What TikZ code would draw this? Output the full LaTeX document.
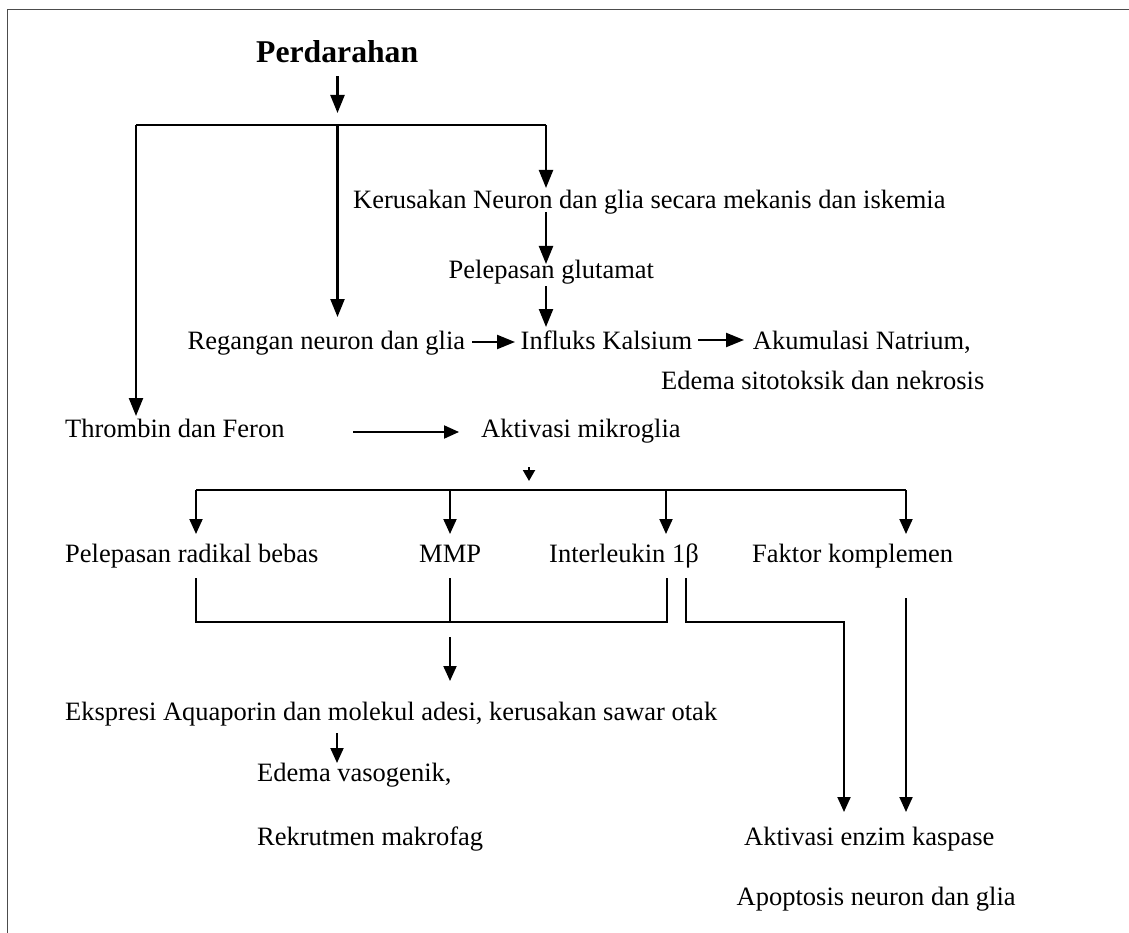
\documentclass[tikz,border=0pt]{standalone}
\usepackage{fontspec}
\setmainfont{Liberation Serif}
\usetikzlibrary{arrows.meta}
\begin{document}
\begin{tikzpicture}[x=1pt,y=-1pt,
  lbl/.style={anchor=base west, inner sep=0pt, font=\fontsize{26.5}{30}\selectfont},
  arr/.style={line width=2pt, -{Triangle[length=15pt,width=13pt]}},
  barr/.style={line width=2.3pt, -{Triangle[length=18pt,width=14pt]}},
  sarr/.style={line width=2pt, -{Triangle[length=11pt,width=12pt]}},
  ln/.style={line width=1.9pt},
  bln/.style={line width=2.3pt},
  frameline/.style={line width=1.3pt, draw=black!70}]
\useasboundingbox (0,0) rectangle (1129,933);
\draw[frameline] (1129,9.5) -- (7.5,9.5) -- (7.5,933);
% texts
\node[lbl, font=\fontsize{31.7}{36}\selectfont\bfseries] (pd) at (256,63) {Perdarahan};
\node[lbl] (ker) at (353,208.6) {Kerusakan Neuron dan glia secara mekanis dan iskemia};
\node[lbl] (glu) at (448.5,278) {Pelepasan glutamat};
\node[lbl] (reg) at (187.5,349) {Regangan neuron dan glia};
\node[lbl] (inf) at (520.5,349) {Influks Kalsium};
\node[lbl] (aku) at (752.7,349) {Akumulasi Natrium,};
\node[lbl] (ede) at (661,389.6) {Edema sitotoksik dan nekrosis};
\node[lbl] (thr) at (65,437) {Thrombin dan Feron};
\node[lbl] (akt) at (481,437) {Aktivasi mikroglia};
\node[lbl] (rad) at (65,562) {Pelepasan radikal bebas};
\node[lbl] (mmp) at (419,562) {MMP};
\node[lbl] (il) at (549,562) {Interleukin 1β};
\node[lbl] (fak) at (752,562) {Faktor komplemen};
\node[lbl] (eks) at (65,720) {Ekspresi Aquaporin dan molekul adesi, kerusakan sawar otak};
\node[lbl] (vas) at (257,781) {Edema vasogenik,};
\node[lbl] (rek) at (257,845) {Rekrutmen makrofag};
\node[lbl] (kas) at (744,845) {Aktivasi enzim kaspase};
\node[lbl] (apo) at (736.5,905) {Apoptosis neuron dan glia};
% junction coordinates
\coordinate (pdA) at (337.5,76.5);
\coordinate (pdB) at (337.5,113);
\coordinate (j0) at (337.5,125);
\coordinate (jl) at (136,125);
\coordinate (jr) at (546,125);
\coordinate (thrT) at (136,416);
\coordinate (regT) at (337.5,317);
\coordinate (kerT) at (546,188);
\coordinate (kerS) at (546,212);
\coordinate (gluT) at (546,264);
\coordinate (gluS) at (546,286);
\coordinate (infT) at (546,327);
\coordinate (rgA) at (472,342);
\coordinate (rgB) at (515,342);
\coordinate (ifA) at (698,340);
\coordinate (ifB) at (744,340);
\coordinate (thA) at (353,432);
\coordinate (thB) at (459,432);
\coordinate (akA) at (529,467);
\coordinate (akB) at (529,481);
\coordinate (b1) at (196,490);
\coordinate (b2) at (450,490);
\coordinate (b3) at (666,490);
\coordinate (b4) at (906,490);
\coordinate (c1) at (196,578);
\coordinate (c2) at (450,578);
\coordinate (c3) at (667,578);
\coordinate (c4) at (686,578);
\coordinate (c5) at (906,598);
\coordinate (d1) at (196,622);
\coordinate (d2) at (450,622);
\coordinate (d3) at (667,622);
\coordinate (d4) at (686,622);
\coordinate (d5) at (844,622);
\coordinate (eA) at (450,637);
\coordinate (eB) at (450,681);
\coordinate (vA) at (337,733);
\coordinate (vB) at (337,763);
\coordinate (kT1) at (844,812);
\coordinate (kT2) at (906,812);
% connectors
\draw[barr] (pdA) -- (pdB);
\draw[bln] (jl) -- (jr);
\draw[barr] (jl) -- (thrT);
\draw[barr] (j0) -- (regT);
\draw[barr] (jr) -- (kerT);
\draw[barr] (kerS) -- (gluT);
\draw[barr] (gluS) -- (infT);
\draw[barr] (rgA) -- (rgB);
\draw[barr] (ifA) -- (ifB);
\draw[arr] (thA) -- (thB);
\draw[sarr] (akA) -- (akB);
\draw[ln] (b1) -- (b4);
\draw[arr] (b1) -- (196,534);
\draw[arr] (b2) -- (450,534);
\draw[arr] (b3) -- (666,534);
\draw[arr] (b4) -- (906,534);
\draw[ln] (c1) -- (d1) -- (d3) -- (c3);
\draw[ln] (c2) -- (d2);
\draw[arr] (eA) -- (eB);
\draw[arr] (c4) -- (d4) -- (d5) -- (kT1);
\draw[arr] (c5) -- (kT2);
\draw[arr] (vA) -- (vB);
\end{tikzpicture}
\end{document}
